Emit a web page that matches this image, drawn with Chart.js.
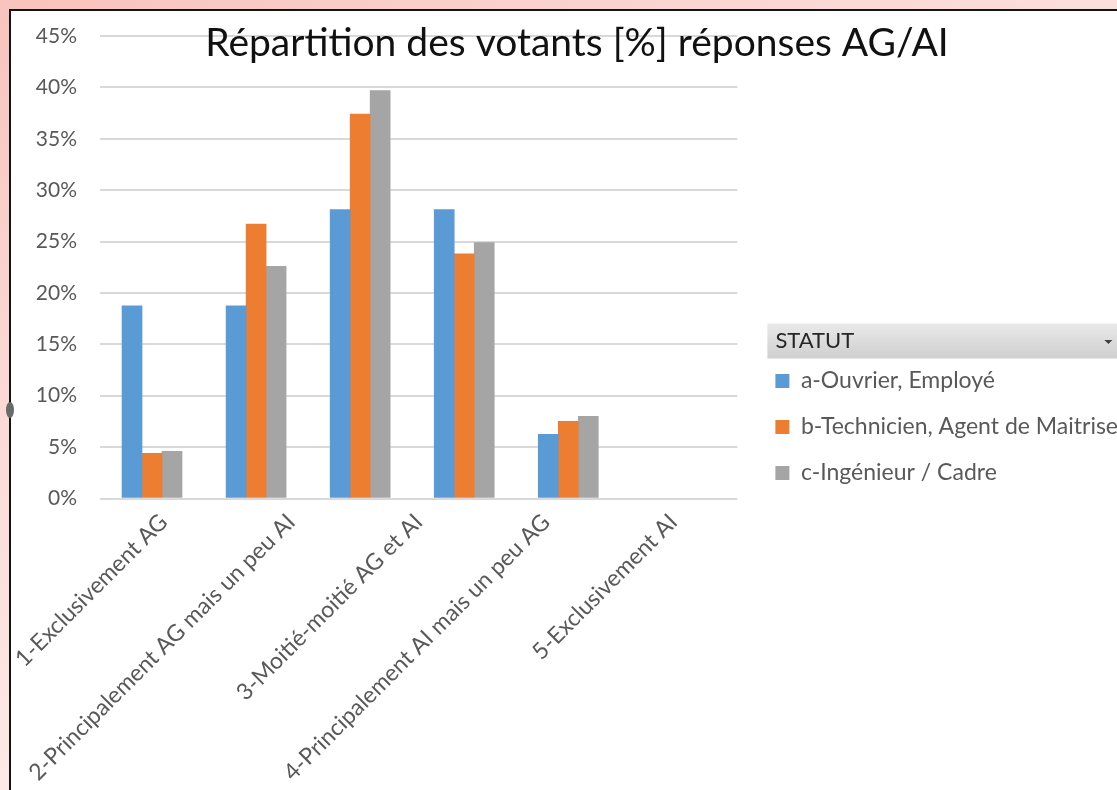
<!DOCTYPE html>
<html>
<head>
<meta charset="utf-8">
<script src="https://cdn.jsdelivr.net/npm/chart.js@4.4.1/dist/chart.umd.min.js"></script>
<style>
html,body{margin:0;padding:0;width:1117px;height:790px;overflow:hidden;}
body{position:relative;background:linear-gradient(155deg,#f8c3bd 0%,#fbd9d5 30%,#fde9e7 60%,#ffffff 85%);}
#frame{position:absolute;left:9px;top:9px;width:1200px;height:900px;background:#fff;border-left:2px solid #141414;border-top:2px solid #141414;}
#handle{position:absolute;left:6px;top:402px;width:8px;height:16px;border-radius:50%;background:#6a6a6a;}
#c{position:absolute;top:0;left:0;}
</style>
</head>
<body>
<div id="frame"></div>
<div id="handle"></div>
<canvas id="c"></canvas>
<script>
// ---------- data ----------
const categories = [
  '1-Exclusivement AG',
  '2-Principalement AG mais un peu AI',
  '3-Moitié-moitié AG et AI',
  '4-Principalement AI mais un peu AG',
  '5-Exclusivement AI'
];
const seriesNames = ['a-Ouvrier, Employé', 'b-Technicien, Agent de Maitrise', 'c-Ingénieur / Cadre'];
const ouvrierEmploye          = [18.75, 18.75, 28.1, 28.1, 6.25];
const technicienAgentMaitrise = [4.4, 26.7, 37.4, 23.8, 7.5];
const ingenieurCadre          = [4.6, 22.6, 39.7, 24.9, 8.0];
const yTickValues = [0, 5, 10, 15, 20, 25, 30, 35, 40, 45];
const chartTitle = 'Répartition des votants [%] réponses AG/AI';
const legendTitle = 'STATUT';

// ---------- style / layout ----------
const FONT = 'Lato';
const seriesColors = ['#5b9bd5', '#ed7d31', '#a5a5a5'];
const PLOT = {left: 100, right: 737, top: 36, bottom: 498.5};
const H = 790;
const LEG_FONT = 23, LEG_PAD = 23, BOX = 14, LEG_LEFT = 752;
const TITLE_CX = 577;
const TITLE_SIZE = 39;

const mctx = document.createElement('canvas').getContext('2d');
mctx.font = LEG_FONT + 'px ' + FONT;
const textW = Math.max(...seriesNames.map(s => mctx.measureText(s).width));
const legendW = LEG_PAD + BOX + LEG_FONT / 2 + textW + 10;
const W = Math.round(LEG_LEFT + legendW);
const PAD_L = 2 * TITLE_CX - W;

const canvas = document.getElementById('c');
canvas.width = W; canvas.height = H;
canvas.style.width = W + 'px'; canvas.style.height = H + 'px';

const seriesValues = [ouvrierEmploye, technicienAgentMaitrise, ingenieurCadre];

const legendHeader = {
  id: 'legendHeader',
  beforeDraw(chart) {
    const lg = chart.legend;
    if (!lg || !lg.legendHitBoxes || !lg.legendHitBoxes.length) return;
    const ctx = chart.ctx;
    const itemTop = lg.legendHitBoxes[0].top;
    const bottom = itemTop - 11, top = bottom - 35;
    const left = lg.left + 15;
    const g = ctx.createLinearGradient(0, top, 0, bottom);
    g.addColorStop(0, '#e9e9e9');
    g.addColorStop(1, '#cfcfcf');
    ctx.save();
    ctx.fillStyle = g;
    ctx.fillRect(left, top, chart.width - left + 40, bottom - top);
    ctx.fillStyle = '#262626';
    ctx.font = '22px ' + FONT;
    ctx.textBaseline = 'middle';
    ctx.textAlign = 'left';
    ctx.fillText(legendTitle, lg.left + 23, (top + bottom) / 2);
    const ax = lg.left + 356, ay = (top + bottom) / 2 + 1;
    ctx.beginPath();
    ctx.moveTo(ax - 4, ay - 2); ctx.lineTo(ax + 4, ay - 2); ctx.lineTo(ax, ay + 2);
    ctx.closePath();
    ctx.fillStyle = '#404040';
    ctx.fill();
    ctx.restore();
  }
};

new Chart(canvas, {
  type: 'bar',
  data: {
    labels: categories,
    datasets: seriesNames.map((name, k) => ({
      label: name,
      data: seriesValues[k].map((v, i) => ({x: i, y: v})),
      backgroundColor: seriesColors[k],
      borderWidth: 0,
      xAxisID: 'xb',
      yAxisID: 'y',
      barThickness: 20
    }))
  },
  options: {
    responsive: false,
    animation: false,
    devicePixelRatio: 1,
    layout: {padding: {left: PAD_L, right: 0, top: 0, bottom: 0}, autoPadding: false},
    scales: {
      x: {
        type: 'category',
        position: 'bottom',
        offset: true,
        grid: {display: false},
        border: {display: false},
        ticks: {
          autoSkip: false, minRotation: 45, maxRotation: 45, padding: 2,
          color: '#595959', font: {family: FONT, size: 23}
        },
        afterFit: s => { s.height = H - PLOT.bottom; s.paddingLeft = 0; s.paddingRight = 0; }
      },
      xb: {
        type: 'linear',
        display: false,
        offset: false,
        min: -0.5,
        max: -0.5 + (PLOT.right - PLOT.left) / 104
      },
      y: {
        type: 'linear',
        position: 'left',
        min: 0, max: 45,
        grid: {color: '#d9d9d9', lineWidth: 2, drawTicks: false},
        border: {display: false},
        afterBuildTicks: s => { s.ticks = yTickValues.map(v => ({value: v})); },
        ticks: {
          padding: 23, color: '#595959', font: {family: FONT, size: 21},
          callback: v => v + '%'
        },
        afterFit: s => { s.width = PLOT.left - PAD_L; }
      },
      yPad: {
        type: 'linear',
        position: 'right',
        display: true,
        grid: {display: false},
        border: {display: false},
        ticks: {display: false},
        afterFit: s => { s.width = LEG_LEFT - PLOT.right; }
      }
    },
    plugins: {
      title: {
        display: true,
        text: chartTitle,
        color: '#111111',
        font: {family: FONT, size: TITLE_SIZE, weight: 'normal'},
        padding: {top: 20.1, bottom: -30.9}
      },
      legend: {
        display: true,
        position: 'right',
        align: 'start',
        maxWidth: 2000,
        title: {display: true, text: '', font: {family: FONT, size: 20}, padding: {top: 322.5, bottom: 0}},
        labels: {
          boxWidth: BOX, boxHeight: BOX, padding: LEG_PAD,
          color: '#595959', font: {family: FONT, size: LEG_FONT}
        }
      },
      tooltip: {enabled: false}
    }
  },
  plugins: [legendHeader]
});
</script>
</body>
</html>
